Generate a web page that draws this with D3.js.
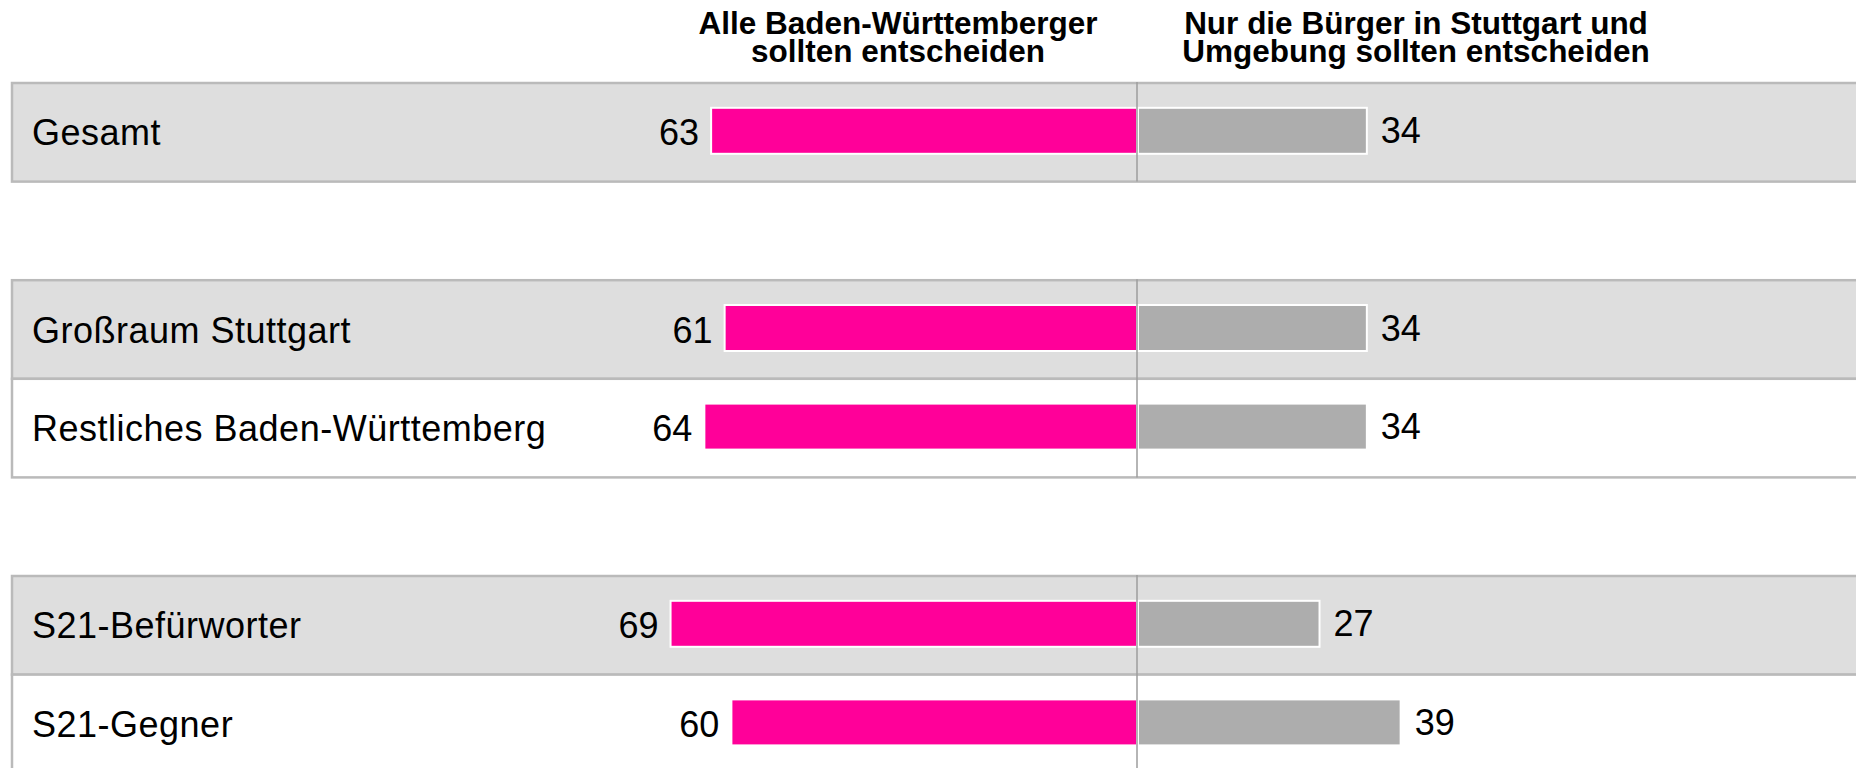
<!DOCTYPE html>
<html>
<head>
<meta charset="utf-8">
<script src="https://cdn.jsdelivr.net/npm/d3@7"></script>
<style>
  html, body { margin:0; padding:0; background:#fff; }
  svg { display:block; font-family:"Liberation Sans", Arial, sans-serif; }
</style>
</head>
<body>
<div id="canvas"></div>
<script>
// data
var categories = ['Gesamt', 'Großraum Stuttgart', 'Restliches Baden-Württemberg', 'S21-Befürworter', 'S21-Gegner'];
var groups = [0, 1, 1, 2, 2];
var alleBW = [63, 61, 64, 69, 60];
var nurStuttgart = [34, 34, 34, 27, 39];
var headers = [
    ['Alle Baden-Württemberger', 'sollten entscheiden'],
    ['Nur die Bürger in Stuttgart und', 'Umgebung sollten entscheiden']
];

var W = 1856, H = 768;

var svg = d3.select('#canvas')
    .append('svg')
    .attr('width', W)
    .attr('height', H);

var rows = categories.map(function(c, i){
    return {name: c, group: groups[i], slot: i + groups[i], alle: alleBW[i], nur: nurStuttgart[i], first: i == 0 || groups[i] != groups[i-1]};
});

// one empty slot between groups
var slots = d3.range(8);
var y = d3.scaleBand().domain(slots).range([83, 83 + 8 * 98.6]).paddingInner(0);
var x = d3.scaleLinear().domain([0, 100]).range([0, 676]);
var cx = 1137, left = 12;

// rows
svg.selectAll('.row')
    .data(rows)
    .enter()
    .append('rect').attr('class', 'row')
    .attr('x', left)
    .attr('y', function(d){ return y(d.slot); })
    .attr('width', W)
    .attr('height', y.bandwidth())
    .style('fill', function(d){ return d.first ? '#dedede' : '#ffffff'; })
    .style('stroke', '#bababa')
    .style('stroke-width', 2.5);

// centre line per group
var groupExtent = d3.groups(rows, function(d){ return d.group; }).map(function(g){
    return {top: y(d3.min(g[1], function(d){ return d.slot; })), bottom: y(d3.max(g[1], function(d){ return d.slot; })) + y.bandwidth()};
});
svg.selectAll('.center')
    .data(groupExtent)
    .enter()
    .append('line').attr('class', 'center')
    .attr('x1', cx).attr('x2', cx)
    .attr('y1', function(d){ return d.top - 1; })
    .attr('y2', function(d){ return d.bottom; })
    .style('stroke', '#9c9c9c')
    .style('stroke-width', 1.5);

var barH = 46;
function barY(d){ return y(d.slot) + y.bandwidth() / 2 - barH / 2 - 1.5; }

svg.selectAll('.bar-alle')
    .data(rows)
    .enter()
    .append('rect').attr('class', 'bar-alle')
    .attr('x', function(d){ return cx - x(d.alle); })
    .attr('y', barY)
    .attr('width', function(d){ return x(d.alle); })
    .attr('height', barH)
    .style('fill', '#ff0099')
    .style('stroke', '#fff')
    .style('stroke-width', 2);

svg.selectAll('.bar-nur')
    .data(rows)
    .enter()
    .append('rect').attr('class', 'bar-nur')
    .attr('x', cx + 1)
    .attr('y', barY)
    .attr('width', function(d){ return x(d.nur) - 1; })
    .attr('height', barH)
    .style('fill', '#adadad')
    .style('stroke', '#fff')
    .style('stroke-width', 2);

// redraw centre line over the bars
svg.selectAll('.center').raise();

function textY(d){ return y(d.slot) + y.bandwidth() / 2 + 13; }

svg.selectAll('.cat')
    .data(rows)
    .enter()
    .append('text').attr('class', 'cat')
    .attr('x', 32)
    .attr('y', textY)
    .style('font-size', '36px')
    .style('letter-spacing', '0.5px')
    .style('fill', '#000')
    .text(function(d){ return d.name; });

svg.selectAll('.val-alle')
    .data(rows)
    .enter()
    .append('text').attr('class', 'val-alle')
    .attr('x', function(d){ return cx - x(d.alle) - 12; })
    .attr('y', textY)
    .attr('text-anchor', 'end')
    .style('font-size', '36px')
    .text(function(d){ return d.alle; });

svg.selectAll('.val-nur')
    .data(rows)
    .enter()
    .append('text').attr('class', 'val-nur')
    .attr('x', function(d){ return cx + x(d.nur) + 14; })
    .attr('y', function(d){ return textY(d) - 2; })
    .style('font-size', '36px')
    .text(function(d){ return d.nur; });

// column headers
var headerX = [898, 1416];
headers.forEach(function(lines, i){
    var t = svg.append('text')
        .attr('text-anchor', 'middle')
        .style('font-size', '31.5px')
        .style('font-weight', 'bold');
    lines.forEach(function(l, j){
        t.append('tspan')
            .attr('x', headerX[i])
            .attr('y', 34 + j * 28)
            .text(l);
    });
});
</script>
</body>
</html>
